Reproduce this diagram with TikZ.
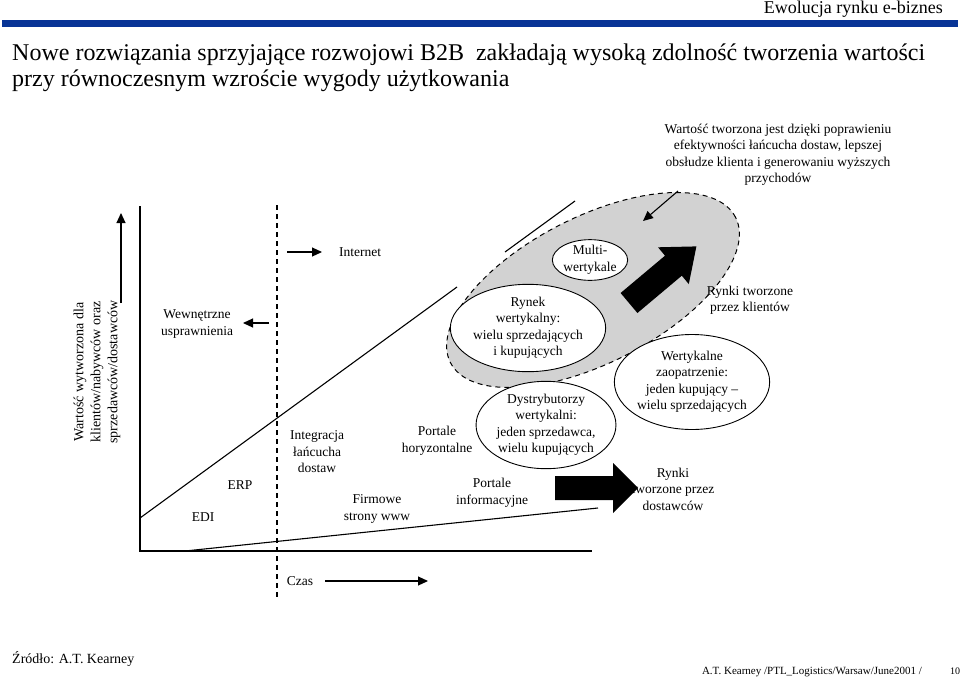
\documentclass[tikz,border=0pt]{standalone}
\usepackage{fontspec}
\setmainfont{Liberation Serif}
\usetikzlibrary{shapes.geometric,arrows.meta}
\definecolor{barblue}{RGB}{8,52,150}
\begin{document}
\begin{tikzpicture}[x=1pt,y=-1pt,
  txt/.style={align=center,font=\fontsize{13.5}{16.5}\selectfont,inner sep=0pt},
  ell/.style={ellipse,draw,fill=white,line width=0.9pt,inner sep=0pt,align=center,font=\fontsize{13.5}{16.5}\selectfont},
  axisline/.style={line width=1.1pt},
  dashline/.style={line width=1.2pt,dash pattern=on 5pt off 4pt},
  arr/.style={line width=1.1pt,-{Triangle[length=10pt,width=9pt]}},
  blockarrow/.style={fill=black}]
\useasboundingbox (0,0) rectangle (960,680);
% header
\node[anchor=east,font=\fontsize{18}{20}\selectfont,inner sep=0pt] (hdr) at (943,9) {Ewolucja rynku e-biznes};
\fill[barblue] (2,20) rectangle (958,27);
\node[anchor=base west,font=\fontsize{24}{27}\selectfont,inner sep=0pt] (t1) at (12,60) {Nowe rozwiązania sprzyjające rozwojowi B2B\ \ zakładają wysoką zdolność tworzenia wartości};
\node[anchor=base west,font=\fontsize{24}{27}\selectfont,inner sep=0pt] (t2) at (12,86) {przy równoczesnym wzroście wygody użytkowania};
% annotation
\node[txt] (ann) at (778,155) {Wartość tworzona jest dzięki poprawieniu\\efektywności łańcucha dostaw, lepszej\\obsłudze klienta i generowaniu wyższych\\przychodów};
% axes
\coordinate (Ytop) at (140,206);
\coordinate (O) at (140,551);
\coordinate (Xend) at (592,551);
\draw[axisline] (Ytop) -- (O) -- (Xend);
\coordinate (ya0) at (121,303);
\coordinate (ya1) at (121,213);
\draw[arr] (ya0) -- (ya1);
\node[txt,rotate=90,font=\fontsize{14}{17}\selectfont] (ylab) at (97,372) {Wartość wytworzona dla\\klientów/nabywców oraz\\sprzedawców/dostawców};
% dashed divider
\coordinate (d0) at (277,205);
\coordinate (d1) at (277,598);
\draw[dashline] (d0) -- (d1);
% diagonal lines
\coordinate (u0) at (140,518);
\coordinate (u1) at (457,287);
\coordinate (u2) at (505,252);
\coordinate (u3) at (575,201);
\draw[line width=1.1pt] (u0) -- (u1);
\draw[line width=1.1pt] (u2) -- (u3);
\coordinate (l0) at (185,551);
\coordinate (l1) at (598,508);
\draw[line width=1.1pt] (l0) -- (l1);
% internet / internal arrows
\coordinate (ia0) at (287,252);
\coordinate (ia1) at (322,252);
\draw[arr] (ia0) -- (ia1);
\node[txt] (internet) at (360,252) {Internet};
\coordinate (wa0) at (269,323);
\coordinate (wa1) at (243,323);
\draw[arr] (wa0) -- (wa1);
\node[txt] (wewn) at (197,324) {Wewnętrzne\\usprawnienia};
% time
\node[txt] (czas) at (300,581) {Czas};
\coordinate (ca0) at (325,581);
\coordinate (ca1) at (428,581);
\draw[arr] (ca0) -- (ca1);
% gray region
\node[ellipse,draw,dashline,line width=1pt,fill=gray!35,minimum width=320pt,minimum height=146pt,rotate=27,inner sep=0pt] (region) at (593,290) {};
% inner ellipses
\node[ell,minimum width=72pt,minimum height=36pt] (multi) at (590,260) {Multi-\\wertykale};
\node[ell,minimum width=122pt,minimum height=73pt] (rynek) at (528,328) {Rynek\\wertykalny:\\wielu sprzedających\\i kupujących};
\node[ell,minimum width=124pt,minimum height=85pt] (dystr) at (546,425) {Dystrybutorzy\\wertykalni:\\jeden sprzedawca,\\wielu kupujących};
\node[ell,minimum width=146pt,minimum height=95pt] (wert) at (692,382) {Wertykalne\\zaopatrzenie:\\jeden kupujący --\\wielu sprzedających};
% block arrows
\fill[blockarrow] (555,476) -- (613,476) -- (613,463) -- (638,488) -- (613,513) -- (613,500) -- (555,500) -- cycle;
\fill[blockarrow] (620.6,293) -- (665,255.7) -- (658,247.3) -- (696.4,246.4) -- (688.8,284.1) -- (681.8,275.7) -- (637.4,313) -- cycle;
% annotation arrow
\coordinate (an1) at (678,191);
\coordinate (an2) at (643,221);
\draw[arr] (an1) -- (an2);
% labels
\node[txt] (klienci) at (750,300) {Rynki tworzone\\przez klientów};
\node[txt] (dostawcy) at (673,489) {Rynki\\tworzone przez\\dostawców};
\node[txt] (phor) at (437,441) {Portale\\horyzontalne};
\node[txt] (pinf) at (492,493) {Portale\\informacyjne};
\node[txt] (integ) at (317,452) {Integracja\\łańcucha\\dostaw};
\node[txt] (erp) at (240,485) {ERP};
\node[txt] (edi) at (203,517) {EDI};
\node[txt] (firm) at (377,509) {Firmowe\\strony www};
% footer
\node[anchor=west,font=\fontsize{14}{16}\selectfont,inner sep=0pt] (zrodlo) at (12,659) {Źródło: A.T. Kearney};
\node[anchor=east,font=\fontsize{11}{13}\selectfont,inner sep=0pt] (foot) at (922,672) {A.T. Kearney /PTL\_Logistics/Warsaw/June2001 /};
\node[font=\fontsize{10}{12}\selectfont,inner sep=0pt] (page) at (955,671) {10};
\end{tikzpicture}
\end{document}
